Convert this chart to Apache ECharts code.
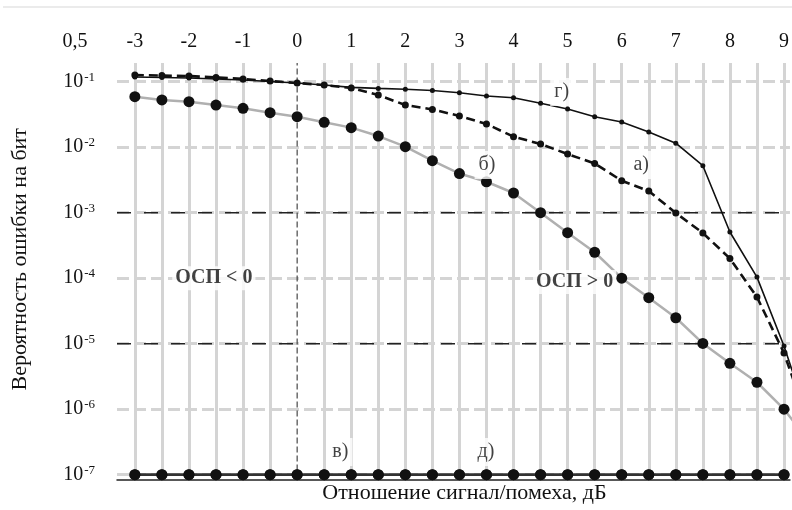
<!DOCTYPE html>
<html><head><meta charset="utf-8">
<script src="https://cdn.jsdelivr.net/npm/echarts@6/dist/echarts.min.js"></script>
<style>html,body{margin:0;padding:0;background:#fff}#c{width:792px;height:510px}</style>
</head><body><div id="c"></div>
<script>
// SNR, dB (step 0.5)
const snr = [-3,-2.5,-2,-1.5,-1,-0.5,0,0.5,1,1.5,2,2.5,3,3.5,4,4.5,5,5.5,6,6.5,7,7.5,8,8.5,9,9.5];
// а) dashed
const seriesA = [0.1265,0.124,0.122,0.116,0.110,0.1025,0.0955,0.089,0.080,0.0626,0.044,0.0377,0.030,0.0226,0.0145,0.0112,0.00787,0.00564,0.00308,0.00214,9.9e-4,4.9e-4,2.0e-4,5.16e-5,7.2e-6,4.8e-7];
// б) grey with big dots
const seriesB = [0.059,0.0526,0.0496,0.044,0.0392,0.0336,0.0292,0.024,0.0199,0.0148,0.0102,0.00622,0.00396,0.00297,0.0020,0.0010,4.95e-4,2.49e-4,1.0e-4,5.04e-5,2.49e-5,1.01e-5,5.02e-6,2.58e-6,1.0e-6,2.95e-7];
// г) solid
const seriesG = [0.118,0.116,0.114,0.110,0.106,0.1007,0.0955,0.089,0.082,0.079,0.0766,0.0734,0.068,0.0605,0.057,0.0468,0.0383,0.0292,0.0243,0.0171,0.0115,0.00522,5.07e-4,1.04e-4,9.2e-6,5.3e-7];
// в) and д) (both at 1e-7), -3..9
const seriesV = [1e-7,1e-7,1e-7,1e-7,1e-7,1e-7,1e-7,1e-7,1e-7,1e-7,1e-7,1e-7,1e-7,1e-7,1e-7,1e-7,1e-7,1e-7,1e-7,1e-7,1e-7,1e-7,1e-7,1e-7,1e-7];
const seriesD = [1e-7,1e-7,1e-7,1e-7,1e-7,1e-7,1e-7,1e-7,1e-7,1e-7,1e-7,1e-7,1e-7,1e-7,1e-7,1e-7,1e-7,1e-7,1e-7,1e-7,1e-7,1e-7,1e-7,1e-7,1e-7];

const xTickLabels = [-3,-2,-1,0,1,2,3,4,5,6,7,8,9];
const xGridLines = [-3,-2.5,-2,-1.5,-1,-0.5,0.5,1,1.5,2,2.5,3,3.5,4,4.5,5,5.5,6,6.5,7,7.5,8,8.5,9];
const yTickValues = [1e-7,1e-6,1e-5,1e-4,1e-3,1e-2,1e-1];
const darkRefY = [1e-3,1e-5];
const zeroRefX = 0;
const xRange = [-3.33, 9.11];
const yRange = [8.45e-8, 0.193];

const annotTexts = ['г)','а)','б)','в)','д)'];
const annotX = [4.89,6.36,3.51,0.8,3.49];
const annotY = [0.0696,0.00535,0.00535,2.22e-7,2.22e-7];
const regionTexts = ['ОСП < 0','ОСП > 0'];
const regionX = [-1.54,5.13];
const regionY = [1.0e-4,8.75e-5];

const serif = '"Liberation Serif","DejaVu Serif",serif';
const ink = '#111';

function pairs(xs, ys){ return ys.map((v,i)=>[xs[i], v]); }

const refSeries = darkRefY.map(v=>({
  type:'line', xAxisIndex:0, data:[[xRange[0], v],[xRange[1], v]], symbol:'none', silent:true, z:2,
  lineStyle:{color:'#222', width:1.5, type:[14,13]}
}));
refSeries.push({
  type:'line', xAxisIndex:0, data:[[zeroRefX, yRange[0]],[zeroRefX, yRange[1]]], symbol:'none', silent:true, z:2,
  lineStyle:{color:'#222', width:1, type:[6,3]}
});

const chart = echarts.init(document.getElementById('c'), null, {renderer:'canvas'});
chart.setOption({
  backgroundColor:'#fff',
  animation:false,
  graphic:[
    {type:'line', shape:{x1:3,y1:7,x2:792,y2:7}, style:{stroke:'#e4e4e4', lineWidth:1.5}},
    {type:'text', x:75, y:42, style:{text:'0,5', font:'20px '+serif, fill:ink, align:'center', verticalAlign:'middle'}}
  ],
  grid:{left:117, right:0, top:63, bottom:30.5, containLabel:false},
  xAxis:[
    {type:'value', position:'top', min:xRange[0], max:xRange[1],
     axisLine:{show:false}, axisTick:{show:false, customValues:xGridLines},
     axisLabel:{customValues:xTickLabels, fontSize:20, fontFamily:serif, color:ink, margin:11},
     splitLine:{show:true, lineStyle:{color:'#d4d4d4', width:3}}},
    {type:'value', position:'bottom', min:xRange[0], max:xRange[1],
     axisLine:{show:true, lineStyle:{color:'#222', width:1.5}}, axisTick:{show:false}, axisLabel:{show:false},
     splitLine:{show:false},
     name:'Отношение сигнал/помеха, дБ', nameLocation:'middle', nameGap:3,
     nameTextStyle:{fontSize:22, fontFamily:serif, color:ink, padding:[0,0,0,22]}}
  ],
  yAxis:{type:'log', logBase:10, min:yRange[0], max:yRange[1],
    axisLine:{show:false}, axisTick:{show:false, customValues:yTickValues},
    axisLabel:{customValues:yTickValues, margin:22, color:ink,
      formatter:v=>'{b|10}{s|'+Math.round(Math.log10(v))+'}',
      rich:{b:{fontSize:20, fontFamily:serif, color:ink, lineHeight:22},
            s:{fontSize:13, fontFamily:serif, color:ink, verticalAlign:'top', lineHeight:22, padding:[0,0,0,1]}}},
    splitLine:{show:true, lineStyle:{color:'#d4d4d4', width:3, type:[12,5]}},
    name:'Вероятность ошибки на бит', nameLocation:'middle', nameGap:86,
    nameTextStyle:{fontSize:22, fontFamily:serif, color:ink, padding:[0,0,0,24]}
  },
  series: refSeries.concat([
    {type:'line', name:'б)', xAxisIndex:0, data:pairs(snr, seriesB), symbol:'circle', symbolSize:11,
     lineStyle:{color:'#b0b0b0', width:2.5}, itemStyle:{color:'#111'}, z:3},
    {type:'line', name:'а)', xAxisIndex:0, data:pairs(snr, seriesA), symbol:'circle', symbolSize:7,
     lineStyle:{color:'#111', width:2.6, type:[9,5]}, itemStyle:{color:'#111'}, z:4},
    {type:'line', name:'г)', xAxisIndex:0, data:pairs(snr, seriesG), symbol:'circle', symbolSize:5,
     lineStyle:{color:'#111', width:1.6}, itemStyle:{color:'#111'}, z:5},
    {type:'line', name:'в)', xAxisIndex:0, data:pairs(snr, seriesV), symbol:'circle', symbolSize:11,
     lineStyle:{color:'#333', width:2.5}, itemStyle:{color:'#111'}, z:4},
    {type:'line', name:'д)', xAxisIndex:0, data:pairs(snr, seriesD), symbol:'circle', symbolSize:11,
     lineStyle:{color:'#333', width:2.5}, itemStyle:{color:'#111'}, z:4},
    {type:'scatter', xAxisIndex:0, symbolSize:0, z:6, silent:true,
     data:annotTexts.map((t,i)=>({value:[annotX[i], annotY[i]], name:t})),
     label:{show:true, position:'inside', formatter:p=>p.name, fontSize:20, fontFamily:serif, color:ink,
       backgroundColor:'#fff', padding:[4,4,4,4]}},
    {type:'scatter', xAxisIndex:0, symbolSize:0, z:6, silent:true,
     data:regionTexts.map((t,i)=>({value:[regionX[i], regionY[i]], name:t})),
     label:{show:true, position:'inside', formatter:p=>p.name, fontSize:20, fontWeight:'bold', fontFamily:serif, color:ink,
       backgroundColor:'#fff', padding:[2,3,2,3]}}
  ])
});
</script></body></html>
